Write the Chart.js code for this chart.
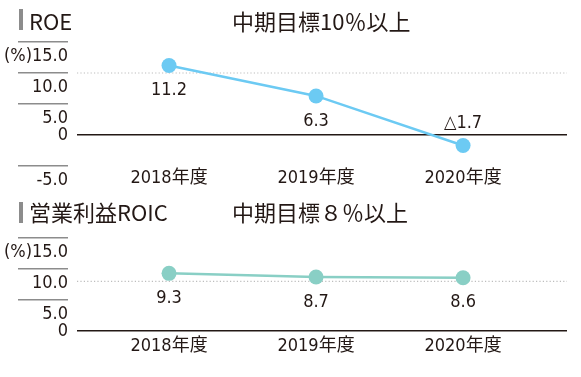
<!DOCTYPE html>
<html><head><meta charset="utf-8">
<script src="https://cdn.jsdelivr.net/npm/chart.js@4.4.0/dist/chart.umd.min.js"></script>
<style>
html,body{margin:0;padding:0;background:#fff;}
#wrap{position:relative;width:581px;height:377px;overflow:hidden;font-family:'Noto Sans CJK JP',sans-serif;color:#231815;}
.box{position:absolute;left:0;width:581px;}
.title{position:absolute;font-size:22px;line-height:24px;white-space:nowrap;}
.bar{position:absolute;left:19px;width:4px;height:21px;background:#8c8c8c;}
</style></head>
<body><div id="wrap">
<div class="box" style="top:0;height:190px"><canvas id="c1"></canvas></div>
<div class="box" style="top:190px;height:187px"><canvas id="c2"></canvas></div>
<div class="bar" style="top:9px"></div>
<div class="title" style="left:29px;top:8px">ROE</div>
<div class="title" style="left:232px;top:8px">中期目標10％以上</div>
<div class="bar" style="top:202px"></div>
<div class="title" style="left:29px;top:199px">営業利益ROIC</div>
<div class="title" style="left:232px;top:199px">中期目標８％以上</div>
</div>
<script>
// ---- data ----
const categories = ['2018年度', '2019年度', '2020年度'];
const roeValues = [11.2, 6.3, -1.7];
const roicValues = [9.3, 8.7, 8.6];
const roeTarget = 10;
const roicTarget = 8;
const roeTicks = [15, 10, 5, 0, -5];
const roicTicks = [15, 10, 5, 0];

const NUM_FONT = "'DejaVu Sans Condensed', 'Liberation Sans Narrow', 'Noto Sans CJK JP', sans-serif";
const TEXT = '#231815';
const X_MIN = -0.626, X_MAX = 2.707;

Chart.defaults.font.family = NUM_FONT;
Chart.defaults.color = TEXT;

const valueLabels = {
  id: 'valueLabels',
  afterDatasetsDraw(chart) {
    const ds = chart.data.datasets[0];
    const meta = chart.getDatasetMeta(0);
    const ctx = chart.ctx;
    ctx.save();
    ctx.font = '18px ' + NUM_FONT;
    ctx.fillStyle = TEXT;
    ctx.textAlign = 'center';
    ctx.textBaseline = 'middle';
    meta.data.forEach((pt, i) => {
      const v = ds.data[i].y;
      const txt = v < 0 ? '△' + Math.abs(v).toFixed(1) : v.toFixed(1);
      const dy = v < 0 ? -22 : 25;
      ctx.fillText(txt, pt.x, pt.y + dy);
    });
    ctx.restore();
  }
};

function makeChart(id, values, target, ticks, color, opt) {
  const yMin = Math.min(...ticks), yMax = Math.max(...ticks);
  return new Chart(document.getElementById(id), {
    type: 'line',
    data: {
      datasets: [
        {
          data: values.map((v, i) => ({x: i, y: v})),
          xAxisID: 'x', yAxisID: 'y',
          borderColor: color, backgroundColor: color,
          borderWidth: 2.5, pointRadius: 7.5, pointHoverRadius: 7.5,
          pointBorderWidth: 0, order: 0, clip: false
        },
        {
          data: [{x: X_MIN, y: target}, {x: X_MAX, y: target}],
          xAxisID: 'x', yAxisID: 'y',
          borderColor: '#bdbdbd', borderWidth: 1.2, borderDash: [1.2, 2.2],
          pointRadius: 0, order: 1
        }
      ]
    },
    options: {
      responsive: true, maintainAspectRatio: false, animation: false,
      devicePixelRatio: 1,
      layout: {padding: {top: opt.top, right: 14, left: 0, bottom: 0}},
      plugins: {legend: {display: false}, tooltip: {enabled: false}},
      scales: {
        x: {
          type: 'linear', min: X_MIN, max: X_MAX,
          afterBuildTicks: s => { s.ticks = categories.map((c, i) => ({value: i})); },
          afterFit: s => { s.height = opt.xh; },
          grid: {display: false, drawTicks: false}, border: {display: false},
          ticks: {
            padding: opt.xpad, font: {size: 18}, autoSkip: false, maxRotation: 0,
            callback: v => categories[v]
          }
        },
        gap: {
          type: 'linear', position: 'left', weight: 0, display: true,
          grid: {display: false, drawTicks: false}, border: {display: false}, ticks: {display: false},
          afterFit: s => { s.width = 9; }
        },
        y: {
          type: 'linear', position: 'left', weight: 1, min: yMin, max: yMax,
          afterBuildTicks: s => { s.ticks = ticks.map(v => ({value: v})); },
          afterFit: s => { s.width = 68; },
          border: {display: false},
          grid: {
            drawOnChartArea: true, drawTicks: true, tickLength: 50,
            color: c => c.tick && c.tick.value === 0 ? TEXT : 'rgba(0,0,0,0)',
            lineWidth: 1.4,
            tickColor: c => c.tick && c.tick.value === 0 ? 'rgba(0,0,0,0)' : '#8c8c8c',
            tickWidth: 1.4
          },
          ticks: {
            padding: -50, autoSkip: false,
            font: {size: 18, lineHeight: '28px'},
            callback: v => {
              if (v === 0) return '0';
              const s = v.toFixed(1);
              return ['', v === yMax ? '(%)' + s : s];
            }
          }
        }
      }
    },
    plugins: [valueLabels]
  });
}

makeChart('c1', roeValues, roeTarget, roeTicks, '#6ccaf3', {top: 42, xh: 24, xpad: 2});
makeChart('c2', roicValues, roicTarget, roicTicks, '#89cfc5', {top: 48, xh: 46, xpad: 5});
</script>
</body></html>
